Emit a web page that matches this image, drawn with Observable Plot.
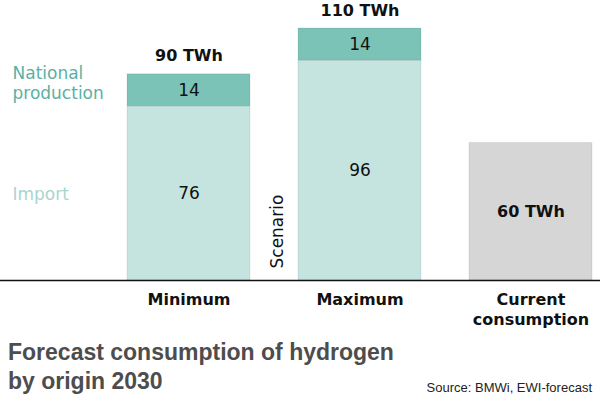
<!DOCTYPE html>
<html><head><meta charset="utf-8">
<script src="https://cdn.jsdelivr.net/npm/d3@7"></script>
<script src="https://cdn.jsdelivr.net/npm/@observablehq/plot@0.6"></script>
<style>
body{margin:0;background:#fff;}
#wrap{position:relative;width:600px;height:398px;overflow:hidden;}
#title{position:absolute;left:8px;top:338px;font:bold 23px/29px "Liberation Sans",sans-serif;color:#4d4d4d;white-space:nowrap;}
#source{position:absolute;right:8px;top:380px;font:13px "Liberation Sans Narrow",sans-serif;color:#222;white-space:nowrap;}
</style></head><body>
<div id="wrap"><div id="chart"></div>
<div id="title">Forecast consumption of hydrogen<br>by origin 2030</div>
<div id="source">Source: BMWi, EWI-forecast</div></div>
<script>
const scenarios = ["Minimum", "Maximum", "Current consumption"];
const origins = ["Import", "National production", "Current"];
const importValues = [76, 96];
const nationalValues = [14, 14];
const currentValues = [60];
const unit = "TWh";
const sideLabel = "Scenario";

const rows = [];
importValues.forEach((v, i) => {
  rows.push({scenario: scenarios[i], origin: origins[0], value: v});
  rows.push({scenario: scenarios[i], origin: origins[1], value: nationalValues[i]});
});
currentValues.forEach(v => rows.push({scenario: scenarios[2], origin: origins[2], value: v}));

const stackedRows = rows.filter(d => d.origin !== "Current");
const currentRows = rows.filter(d => d.origin === "Current");
const totals = Array.from(d3.rollup(stackedRows, g => d3.sum(g, d => d.value), d => d.scenario),
  ([scenario, total]) => ({scenario, total}));

const nationalLegend = [{label: origins[1], y: importValues[0] + nationalValues[0] / 2}];
const importLegend = [{label: origins[0], y: importValues[0] / 2}];

const chart = Plot.plot({
  width: 600,
  height: 332,
  marginLeft: 0,
  marginRight: 0,
  marginTop: 28,
  marginBottom: 52,
  style: {fontFamily: "DejaVu Sans, sans-serif", color: "#111", background: "transparent"},
  x: {type: "band", domain: scenarios, range: [126, 593], paddingInner: 0.283, paddingOuter: 0, axis: null},
  y: {domain: [0, 110], axis: null},
  color: {domain: origins, range: ["#c5e4e0", "#7bc3b6", "#d6d6d6"]},
  marks: [
    Plot.barY(rows, {x: "scenario", y: "value", fill: "origin", stroke: "#000", strokeOpacity: 0.08, strokeWidth: 1}),
    Plot.ruleY([0], {stroke: "#111", strokeWidth: 1.3}),
    Plot.text(stackedRows, Plot.stackY({x: "scenario", y: "value", text: d => String(d.value), fontSize: 17, fill: "#111"})),
    Plot.text(currentRows, Plot.stackY({x: "scenario", y: "value", text: d => `${d.value} ${unit}`, fontSize: 16, fontWeight: "bold", fill: "#111"})),
    Plot.text(totals, {x: "scenario", y: "total", text: d => `${d.total} ${unit}`, dy: -18, fontSize: 16, fontWeight: "bold", fill: "#111"}),
    Plot.text(scenarios, {x: d => d, frameAnchor: "bottom", dy: 10, lineAnchor: "top", lineHeight: 1.25,
      text: d => d === "Current consumption" ? "Current\nconsumption" : d, fontSize: 16, fontWeight: "bold", fill: "#111"}),
    Plot.text(nationalLegend, {y: "y", frameAnchor: "left", dx: 12, dy: -8, textAnchor: "start", lineHeight: 1.18,
      text: d => d.label.replace(" ", "\n"), fill: "#5cb0a2", fontSize: 17}),
    Plot.text(importLegend, {y: "y", frameAnchor: "left", dx: 12, dy: 1, textAnchor: "start",
      text: "label", fill: "#a9d5ce", fontSize: 17}),
    Plot.text([sideLabel], {x: () => scenarios[1], y: () => 0, text: d => d, rotate: -90, textAnchor: "start",
      lineAnchor: "middle", dx: -82, dy: -12, fontSize: 17, fill: "#111"})
  ]
});
document.getElementById("chart").appendChild(chart);
</script>
</body></html>
